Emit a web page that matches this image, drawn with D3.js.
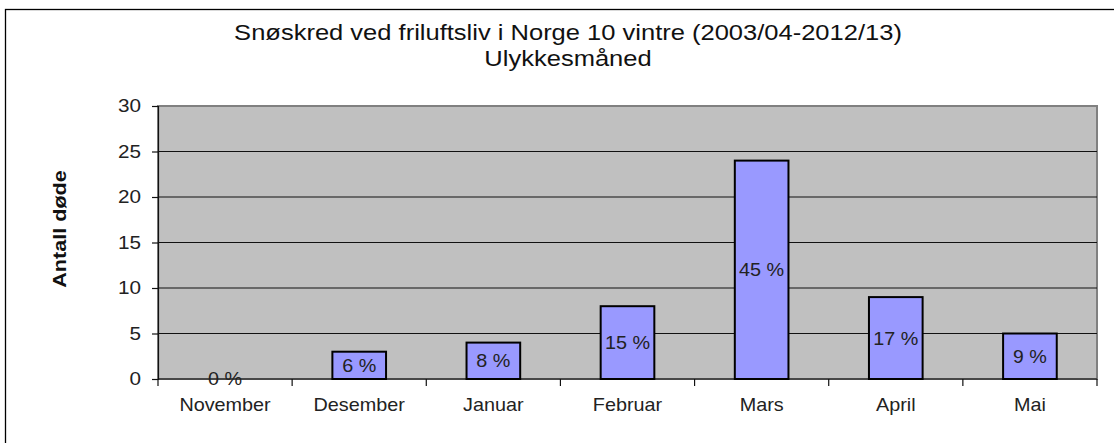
<!DOCTYPE html>
<html>
<head>
<meta charset="utf-8">
<script src="https://cdn.jsdelivr.net/npm/d3@7"></script>
<style>
  body { margin: 0; background: #fff; }
  svg { display: block; font-family: "Liberation Sans", Arial, sans-serif; }
</style>
</head>
<body>
<svg width="1114" height="443"></svg>
<script>
const months = ["November", "Desember", "Januar", "Februar", "Mars", "April", "Mai"];
const deaths = [0, 3, 4, 8, 24, 9, 5];
const shares = ["0 %", "6 %", "8 %", "15 %", "45 %", "17 %", "9 %"];
const yTicks = [0, 5, 10, 15, 20, 25, 30];

const margin = { top: 106, right: 17, bottom: 64, left: 158 };
const W = 1114, H = 443;
const width = W - margin.left - margin.right;
const height = H - margin.top - margin.bottom;

// text in the source is a bit wider than plain Arial
const sx = 1.15;

const svg = d3.select("svg");

// puts text at (x,y) stretched horizontally
function wideText(sel, x, y, k) {
    return sel.attr("transform", (d, i) => {
        const px = typeof x === "function" ? x(d, i) : x;
        const py = typeof y === "function" ? y(d, i) : y;
        return `translate(${px},${py}) scale(${k},1)`;
    });
}

// outer chart frame (runs off right and bottom)
svg.append("rect")
    .attr("x", 5.5).attr("y", 9.5)
    .attr("width", 1200).attr("height", 600)
    .attr("fill", "none")
    .attr("stroke", "#000")
    .attr("stroke-width", 1.3);

const titles = ["Snøskred ved friluftsliv i Norge 10 vintre (2003/04-2012/13)", "Ulykkesmåned"];
svg.selectAll(".title")
    .data(titles)
    .join("text")
    .attr("class", "title")
    .attr("text-anchor", "middle")
    .style("font-size", "22px")
    .attr("fill", "#111")
    .call(wideText, 568, (d, i) => 40 + i * 26, 1.16)
    .text(d => d);

const g = svg.append("g")
    .attr("transform", `translate(${margin.left},${margin.top})`);

const x = d3.scaleBand()
    .domain(months)
    .range([0, width])
    .paddingInner(0.6)
    .paddingOuter(0.3);

const y = d3.scaleLinear()
    .domain([0, 30])
    .range([height, 0]);

// plot area
g.append("rect")
    .attr("width", width).attr("height", height)
    .attr("fill", "#c0c0c0")
    .attr("stroke", "#808080")
    .attr("stroke-width", 2);

// gridlines
g.append("g")
    .selectAll("line")
    .data(yTicks.filter(d => d > 0 && d < 30))
    .join("line")
    .attr("x1", 0).attr("x2", width)
    .attr("y1", d => y(d)).attr("y2", d => y(d))
    .attr("stroke", "#111")
    .attr("stroke-width", 1.2);

// y axis
const yAxis = g.append("g")
    .call(d3.axisLeft(y).tickValues(yTicks).tickSize(6).tickPadding(11));
yAxis.selectAll("text")
    .style("font-size", "18px")
    .style("font-family", "'Liberation Sans', Arial, sans-serif")
    .attr("fill", "#222")
    .attr("x", 0)
    .attr("transform", `translate(-17,0) scale(${sx},1)`);
yAxis.selectAll("line, path").attr("stroke", "#111").attr("stroke-width", 1.2);

// x axis with ticks at band boundaries
const step = width / months.length;
const xAxisG = g.append("g").attr("transform", `translate(0,${height})`);
xAxisG.append("line")
    .attr("x1", 0).attr("x2", width)
    .attr("stroke", "#111").attr("stroke-width", 1.2);
xAxisG.selectAll(".tk")
    .data(d3.range(months.length + 1))
    .join("line")
    .attr("x1", i => i * step).attr("x2", i => i * step)
    .attr("y1", 0).attr("y2", 7)
    .attr("stroke", "#111").attr("stroke-width", 1.2);
xAxisG.selectAll(".lbl")
    .data(months)
    .join("text")
    .attr("text-anchor", "middle")
    .style("font-size", "18px")
    .attr("fill", "#222")
    .call(wideText, d => x(d) + x.bandwidth() / 2, 32, 1.1)
    .text(d => d);

// bars
const data = months.map((m, i) => ({ month: m, value: deaths[i], share: shares[i] }));

g.append("g")
    .selectAll("rect")
    .data(data.filter(d => d.value > 0))
    .join("rect")
    .attr("x", d => x(d.month))
    .attr("y", d => y(d.value))
    .attr("width", x.bandwidth())
    .attr("height", d => y(0) - y(d.value))
    .attr("fill", "#9999ff")
    .attr("stroke", "#000")
    .attr("stroke-width", 2);

g.append("g")
    .selectAll("text")
    .data(data)
    .join("text")
    .attr("dy", "0.36em")
    .attr("text-anchor", "middle")
    .style("font-size", "18px")
    .attr("fill", "#222")
    .call(wideText, d => x(d.month) + x.bandwidth() / 2, d => (y(0) + y(d.value)) / 2, 1.1)
    .text(d => d.share);

// y axis title
svg.append("text")
    .attr("transform", `translate(66,229) rotate(-90) scale(1.2,1)`)
    .attr("text-anchor", "middle")
    .style("font-size", "18px")
    .style("font-weight", "bold")
    .attr("fill", "#111")
    .text("Antall døde");
</script>
</body>
</html>
